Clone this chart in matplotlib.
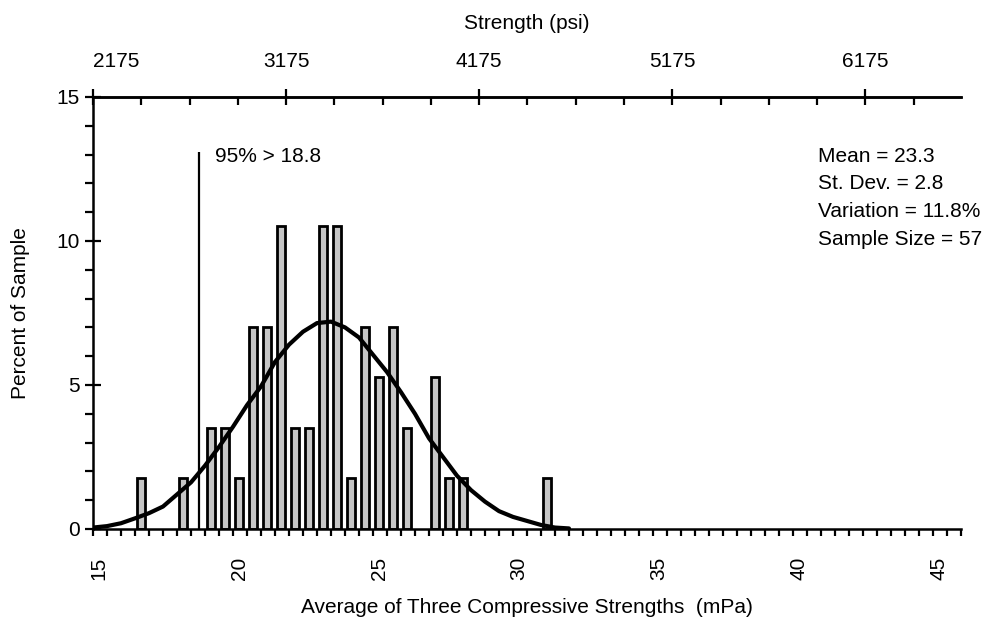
#!/usr/bin/env python3
"""Histogram of averaged compressive strengths with a fitted normal curve."""

import matplotlib
matplotlib.use("Agg")
import matplotlib.pyplot as plt
from matplotlib.ticker import FixedLocator, MultipleLocator, NullFormatter
from matplotlib.transforms import ScaledTranslation

PSI_PER_MPA = 145.0
SAMPLE_SIZE = 57

bin_mpa = [16.5, 18.0, 19.0, 19.5, 20.0, 20.5, 21.0, 21.5, 22.0, 22.5, 23.0,
           23.5, 24.0, 24.5, 25.0, 25.5, 26.0, 27.0, 27.5, 28.0, 31.0]
bin_counts = [1, 1, 2, 2, 1, 4, 4, 6, 2, 2, 6, 6, 1, 4, 3, 4, 2, 3, 1, 1, 1]

curve_mpa = [15.0, 15.5, 16.0, 16.5, 17.0, 17.5, 18.0, 18.5, 19.0, 19.5,
             20.0, 20.5, 21.0, 21.5, 22.0, 22.5, 23.0, 23.5, 24.0, 24.5,
             25.0, 25.5, 26.0, 26.5, 27.0, 27.5, 28.0, 28.5, 29.0, 29.5,
             30.0, 30.5, 31.0, 31.5, 32.0]
curve_percent = [0.05, 0.1, 0.2, 0.37, 0.55, 0.78, 1.2, 1.62, 2.2, 2.85,
                 3.55, 4.3, 4.95, 5.8, 6.4, 6.85, 7.15, 7.2, 7.0, 6.65,
                 6.05, 5.45, 4.75, 4.0, 3.15, 2.5, 1.85, 1.35, 0.95, 0.62,
                 0.42, 0.28, 0.14, 0.05, 0.02]

limit_mpa = 18.8
limit_top = 13.1
limit_label = "95% > 18.8"
stats_lines = ["Mean = 23.3", "St. Dev. = 2.8", "Variation = 11.8%",
               "Sample Size = 57"]

mpa_ticks = [15, 20, 25, 30, 35, 40, 45]
psi_ticks = [2175, 3175, 4175, 5175, 6175]
percent_ticks = [0, 5, 10, 15]

FONT = 15


def main():
    plt.rcParams["font.family"] = ["Liberation Sans", "DejaVu Sans"]
    plt.rcParams["font.size"] = FONT

    fig = plt.figure(figsize=(9.92, 6.19), dpi=100)
    ax = fig.add_axes([0.09375, 0.1454, 0.875, 0.6979])
    ax.set_xlim(15, 46)
    ax.set_ylim(0, 15)

    heights = [count / SAMPLE_SIZE * 100 for count in bin_counts]
    ax.bar([x + 0.07 for x in bin_mpa], heights, width=0.3, align="edge",
           facecolor="#c6c6c6", edgecolor="black", linewidth=2.0, zorder=2)
    ax.plot(curve_mpa, curve_percent, color="black", linewidth=3.0,
            solid_joinstyle="round", solid_capstyle="round", zorder=3)
    ax.vlines(limit_mpa, 0, limit_top, color="black", linewidth=1.6, zorder=3)
    ax.text(limit_mpa + 0.55, limit_top - 0.15, limit_label, ha="left",
            va="center")
    for i, line in enumerate(stats_lines):
        ax.text(40.9, 12.95 - 0.97 * i, line, ha="left", va="center")

    ax.spines["right"].set_visible(False)
    for side in ("left", "bottom", "top"):
        ax.spines[side].set_linewidth(1.8)

    # bottom axis, MPa
    ax.xaxis.set_major_locator(FixedLocator(mpa_ticks))
    ax.xaxis.set_minor_locator(MultipleLocator(0.5))
    ax.tick_params(axis="x", which="both", direction="out", length=5,
                   width=1.6, bottom=True, top=False)
    ax.tick_params(axis="x", which="major", pad=15, labelrotation=90)
    shift = ScaledTranslation(0.06, 0, fig.dpi_scale_trans)
    for label in ax.get_xticklabels():
        label.set_transform(label.get_transform() + shift)
    ax.set_xlabel("Average of Three Compressive Strengths  (mPa)",
                  labelpad=13)

    # left axis, percent
    ax.yaxis.set_major_locator(FixedLocator(percent_ticks))
    ax.yaxis.set_minor_locator(MultipleLocator(1))
    ax.tick_params(axis="y", which="major", direction="inout", length=11,
                   width=1.6, pad=4)
    ax.tick_params(axis="y", which="minor", direction="out", length=6,
                   width=1.6)
    ax.set_ylabel("Percent of Sample", labelpad=19)

    # top axis, psi
    top = ax.secondary_xaxis("top", functions=(lambda m: m * PSI_PER_MPA,
                                               lambda p: p / PSI_PER_MPA))
    top.spines["top"].set_linewidth(1.8)
    top.xaxis.set_major_locator(FixedLocator(psi_ticks))
    top.xaxis.set_minor_locator(MultipleLocator(250, offset=175))
    top.xaxis.set_minor_formatter(NullFormatter())
    top.tick_params(axis="x", which="major", direction="inout", length=11,
                    width=1.6, pad=13)
    top.tick_params(axis="x", which="minor", direction="in", length=6,
                    width=1.6)
    top.get_xticklabels()[0].set_horizontalalignment("left")
    top.set_xlabel("Strength (psi)", labelpad=17)

    fig.savefig("out.png", dpi=100)


if __name__ == "__main__":
    main()
